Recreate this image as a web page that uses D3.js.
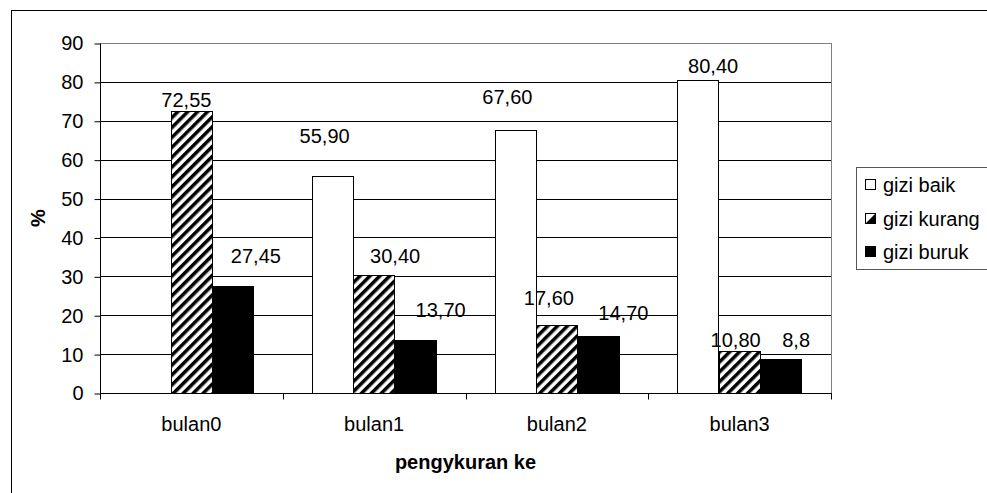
<!DOCTYPE html>
<html>
<head>
<meta charset="utf-8">
<script src="https://cdn.jsdelivr.net/npm/d3@7"></script>
<style>
  html, body { margin: 0; padding: 0; background: #fff; }
  svg { display: block; }
  text { font-family: "Liberation Sans", Arial, sans-serif; fill: #000; }
</style>
</head>
<body>
<svg id="chart" width="987" height="493"></svg>
<script>
// Nutrition status per measurement month (percent)
const categories = ["bulan0", "bulan1", "bulan2", "bulan3"];
const seriesNames = ["gizi baik", "gizi kurang", "gizi buruk"];
const giziBaik   = [0, 55.90, 67.60, 80.40];
const giziKurang = [72.55, 30.40, 17.60, 10.80];
const giziBuruk  = [27.45, 13.70, 14.70, 8.8];
const valueLabels = [
  ["", "72,55", "27,45"],
  ["55,90", "30,40", "13,70"],
  ["67,60", "17,60", "14,70"],
  ["80,40", "10,80", "8,8"]
];
const yTicks = [0, 10, 20, 30, 40, 50, 60, 70, 80, 90];

// label placement nudges (px) relative to the top centre of each bar
const labelNudge = [
  [[0, 0], [-5, -11], [23, -30]],
  [[-8, -40], [21, -19], [25, -30]],
  [[-8, -33], [-8, -27], [25, -23]],
  [[15, -14], [-4, -11], [15, -19]]
];

const values = [giziBaik, giziKurang, giziBuruk];

const svg = d3.select("#chart");
const plot = { left: 100, right: 831, top: 43, bottom: 393 };

const x = d3.scaleBand().domain(categories).range([plot.left, plot.right]).padding(0);
const xs = d3.scaleBand().domain(seriesNames).range([0, x.bandwidth()])
  .paddingInner(0).paddingOuter(0.702);
const y = d3.scaleLinear().domain([0, 90]).range([plot.bottom, plot.top]);

// hatch pattern for "gizi kurang"
const defs = svg.append("defs");
const pat = defs.append("pattern")
  .attr("id", "hatch").attr("patternUnits", "userSpaceOnUse")
  .attr("width", 7).attr("height", 7)
  .attr("patternTransform", "rotate(45)");
pat.append("rect").attr("width", 7).attr("height", 7).attr("fill", "#fff");
pat.append("rect").attr("x", 0).attr("width", 3.5).attr("height", 7).attr("fill", "#000");

const fills = ["#fff", "url(#hatch)", "#000"];

// outer chart border
svg.append("rect")
  .attr("x", 11.5).attr("y", 10.5).attr("width", 1000).attr("height", 600)
  .attr("fill", "none").attr("stroke", "#000").attr("stroke-width", 1);

// gridlines
svg.append("g").selectAll("line").data(yTicks.filter(d => d > 0)).join("line")
  .attr("x1", plot.left).attr("x2", plot.right)
  .attr("y1", d => Math.round(y(d)) + 0.5).attr("y2", d => Math.round(y(d)) + 0.5)
  .attr("stroke", d => d === 90 ? "#808080" : "#000").attr("stroke-width", 1);

// plot area right border
svg.append("line")
  .attr("x1", plot.right + 0.5).attr("x2", plot.right + 0.5)
  .attr("y1", plot.top).attr("y2", plot.bottom)
  .attr("stroke", "#808080");

// bars
const rows = [];
categories.forEach((c, i) => seriesNames.forEach((s, j) => {
  rows.push({ c, s, i, j, v: values[j][i], label: valueLabels[i][j] });
}));

svg.append("g").selectAll("rect").data(rows.filter(d => d.v > 0)).join("rect")
  .attr("x", d => Math.round(x(d.c) + xs(d.s)) + 0.5)
  .attr("y", d => Math.round(y(d.v)) + 0.5)
  .attr("width", d => Math.round(xs.bandwidth()))
  .attr("height", d => Math.round(y(0)) - Math.round(y(d.v)))
  .attr("fill", d => fills[d.j])
  .attr("stroke", "#000").attr("stroke-width", 1);

// value labels
svg.append("g").selectAll("text").data(rows.filter(d => d.label)).join("text")
  .attr("x", d => x(d.c) + xs(d.s) + xs.bandwidth() / 2 + labelNudge[d.i][d.j][0])
  .attr("y", d => y(d.v) + labelNudge[d.i][d.j][1])
  .attr("text-anchor", "middle").attr("dominant-baseline", "central")
  .style("font-size", "20px")
  .text(d => d.label);

// y axis
const yAxis = d3.axisLeft(y).tickValues(yTicks).tickSize(6).tickPadding(11)
  .tickFormat(d3.format("d"));
const gy = svg.append("g").attr("transform", `translate(${plot.left + 0.5},0.5)`).call(yAxis);
gy.select(".domain").attr("stroke", "#000").attr("d", `M0,${plot.top}V${plot.bottom}`);
gy.selectAll(".tick line").attr("stroke", "#000");
gy.selectAll(".tick text").style("font-size", "20px")
  .style("font-family", "'Liberation Sans', Arial, sans-serif");

// x axis
const gx = svg.append("g").attr("transform", `translate(0,${plot.bottom + 0.5})`);
gx.append("line").attr("x1", plot.left).attr("x2", plot.right + 1)
  .attr("stroke", "#000");
const bounds = categories.map(c => x(c)).concat([plot.right]);
gx.selectAll("line.tk").data(bounds).join("line").attr("class", "tk")
  .attr("x1", d => Math.round(d) + 0.5).attr("x2", d => Math.round(d) + 0.5)
  .attr("y1", 0).attr("y2", 6).attr("stroke", "#000");
gx.selectAll("text").data(categories).join("text")
  .attr("x", d => x(d) + x.bandwidth() / 2).attr("y", 30)
  .attr("text-anchor", "middle").attr("dominant-baseline", "central")
  .style("font-size", "20px").text(d => d);

// axis titles
svg.append("text")
  .attr("x", (plot.left + plot.right) / 2).attr("y", 462)
  .attr("text-anchor", "middle").attr("dominant-baseline", "central")
  .style("font-size", "20px").style("font-weight", "bold")
  .text("pengykuran ke");
svg.append("text")
  .attr("transform", `translate(38,${(plot.top + plot.bottom) / 2}) rotate(-90)`)
  .attr("text-anchor", "middle").attr("dominant-baseline", "central")
  .style("font-size", "20px").style("font-weight", "bold")
  .text("%");

// legend
const lg = svg.append("g");
lg.append("rect").attr("x", 856.5).attr("y", 167.5).attr("width", 200).attr("height", 102)
  .attr("fill", "#fff").attr("stroke", "#555");
const ly = [185, 219, 252];
seriesNames.forEach((s, j) => {
  const g = lg.append("g").attr("transform", `translate(865.5,${ly[j] - 5.5})`);
  if (j === 1) {
    g.append("rect").attr("width", 10).attr("height", 10).attr("fill", "#fff").attr("stroke", "#000");
    g.append("path").attr("d", "M10,0L10,10L0,10Z").attr("fill", "#000");
  } else {
    g.append("rect").attr("width", 10).attr("height", 10)
      .attr("fill", fills[j]).attr("stroke", "#000");
  }
  lg.append("text").attr("x", 883).attr("y", ly[j])
    .attr("dominant-baseline", "central").style("font-size", "20px").text(s);
});
</script>
</body>
</html>
